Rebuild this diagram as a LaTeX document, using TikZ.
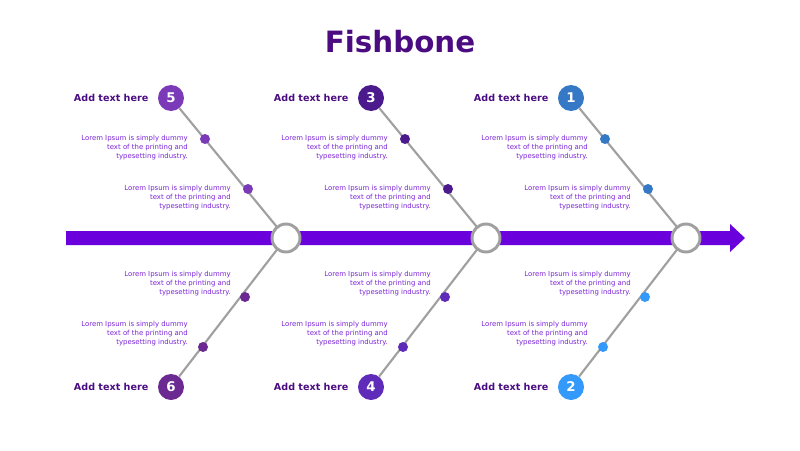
\documentclass[tikz,border=0pt]{standalone}
\usepackage{fontspec}
\setmainfont{DejaVu Sans}
\usetikzlibrary{calc}
\definecolor{spine}{HTML}{6A00DC}
\definecolor{titlecol}{HTML}{4B0C82}
\definecolor{bone}{HTML}{A0A0A0}
\definecolor{loremcol}{HTML}{7A22D6}
\definecolor{cfive}{HTML}{7B3AB8}
\definecolor{csix}{HTML}{6A2A92}
\definecolor{cthree}{HTML}{4B1B8E}
\definecolor{cfour}{HTML}{5F2CBA}
\definecolor{cone}{HTML}{3478C6}
\definecolor{ctwo}{HTML}{3399FA}
\tikzset{
  hub/.style={circle, draw=bone, line width=2.2pt, fill=white, minimum size=21pt, inner sep=0pt},
  numdot/.style={circle, fill=#1, text=white, minimum size=19.5pt, inner sep=0pt, font=\fontsize{10}{10}\selectfont\bfseries},
  smalldot/.style={circle, fill=#1, minimum size=7.5pt, inner sep=0pt},
  addtext/.style={text=titlecol, font=\fontsize{7.2}{8}\selectfont\bfseries, anchor=east},
  lorem/.style={text=loremcol, font=\fontsize{5.2}{6.8}\selectfont, align=right, inner sep=0pt},
  bonel/.style={draw=bone, line width=1.6pt}
}
\newcommand{\loremtxt}{Lorem Ipsum is simply dummy\\text of the printing and\\typesetting industry.}
\begin{document}
\begin{tikzpicture}[x=0.75pt, y=-0.75pt]
  \useasboundingbox (0,0) rectangle (800,450);
  \node[text=titlecol, font=\fontsize{22}{24}\selectfont\bfseries] (title) at (400,42) {Fishbone};
  % spine
  \fill[spine] (66,231) -- (730,231) -- (730,224) -- (745,238) -- (730,252) -- (730,245) -- (66,245) -- cycle;
  % bones
  \foreach \hx/\up/\cu/\dn/\cd in {286/5/cfive/6/csix, 486/3/cthree/4/cfour, 686/1/cone/2/ctwo} {
    \node[numdot=\cu] (n\up) at (\hx-115,98) {\up};
    \node[numdot=\cd] (n\dn) at (\hx-115,387) {\dn};
    \coordinate (h\up) at (\hx,238);
    \draw[bonel] (n\up) -- (h\up);
    \draw[bonel] (n\dn) -- (h\up);
    \node[hub] (hub\up) at (h\up) {};
    \node[smalldot=\cu] (a\up) at (\hx-81,139) {};
    \node[smalldot=\cu] (b\up) at (\hx-38,189) {};
    \node[smalldot=\cd] (a\dn) at (\hx-41,297) {};
    \node[smalldot=\cd] (b\dn) at (\hx-83,347) {};
    \node[addtext] (t\up) at (\hx-133,98) {Add text here};
    \node[addtext] (t\dn) at (\hx-133,387) {Add text here};
    \node[lorem, anchor=north east] (la\up) at (\hx-98,135) {\loremtxt};
    \node[lorem, anchor=north east] (lb\up) at (\hx-55,185) {\loremtxt};
    \node[lorem, anchor=north east] (la\dn) at (\hx-55,271) {\loremtxt};
    \node[lorem, anchor=north east] (lb\dn) at (\hx-98,321) {\loremtxt};
  }
\end{tikzpicture}
\end{document}
